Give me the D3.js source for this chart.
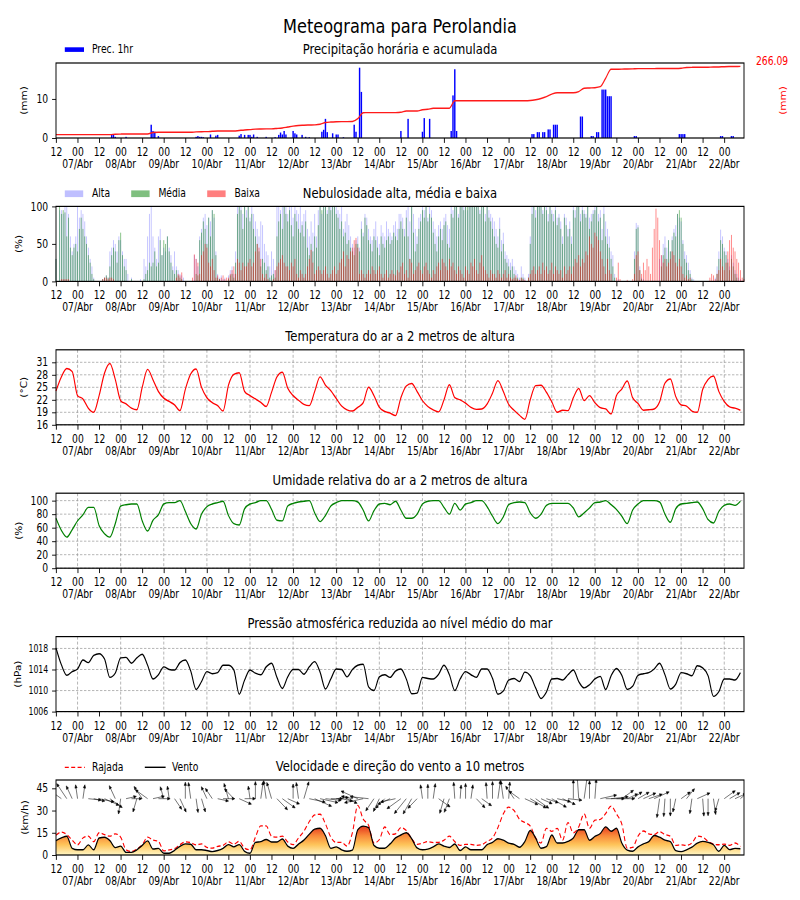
<!DOCTYPE html>
<html>
<head>
<meta charset="utf-8">
<script src="https://cdn.jsdelivr.net/npm/d3@7/dist/d3.min.js"></script>
<style>
  html, body { margin: 0; padding: 0; background: #fff; }
  svg { display: block; font-family: 'DejaVu Sans', sans-serif; }
</style>
</head>
<body>
<svg id="chart" width="800" height="900" viewBox="0 0 1000 900" preserveAspectRatio="none"></svg>
<script>
// ---- data: hour 0 = 06/Abr 12:00 UTC ----

// hourly precipitation (only hours with rain)
var precHour = [31,32,33,39, 53,54,55,57, 78,79,80,81,82, 86,89,90,
  102,103,105,107,108,109,110,112, 117, 122,124,125,126,127,128,
  132,133,134,137,139,141, 148,149,150,151, 154,156,157,160,
  166,167,169,170, 192,196, 204,205,208, 220,221,222,223,
  265,266,268,269,271,272,274,275,277,278,279, 292,293,
  298,299,301,302, 304,305,306,307,308,309, 322,323,
  347,348,349,350, 370,371,376,377];
var precMm = [0.9,0.8,0.3,0.3, 3.4,1.8,1.6,0.5, 0.3,0.5,0.3,0.3,0.2, 0.9,0.6,0.8,
  0.6,1.0,0.8,0.8,0.8,0.3,0.9,0.3, 0.3, 0.2,0.8,1.4,0.9,1.8,0.9,
  1.8,1.2,0.9,0.8,0.3,0.2, 1.6,2.1,4.9,1.5, 1.2,0.9,0.9,0.2,
  3.4,1.6,18.0,11.8, 1.8,4.9, 1.6,5.1,4.9, 1.8,10.9,17.6,1.8,
  1.0,1.0,1.5,1.5,1.5,1.5,2.2,2.2,3.4,3.4,3.4, 5.5,5.5,
  0.5,0.5,1.5,1.5, 12.4,12.4,12.4,10.7,10.7,10.7, 0.5,0.5,
  1.0,1.0,1.0,1.0, 0.5,0.5,0.5,0.5];

// 3-hourly accumulated precipitation (mm)
var precAcum = [
  0, 0, 0, 0,
  0, 0, 0, 0, 0, 0, 0, 1.5,
  2.0, 2.2, 2.2, 2.2, 2.2, 2.5, 8.0, 8.9,
  8.9, 8.9, 8.9, 8.9, 8.9, 8.9, 10.5, 11.3,
  11.5, 13.0, 14.0, 14.0, 14.0, 14.0, 16.0, 18.0,
  19.5, 21.5, 22.0, 22.3, 22.5, 24.0, 26.0, 29.5,
  33.0, 35.5, 36.5, 37.4, 38.0, 40.2, 47.0, 49.0,
  50.0, 50.5, 50.5, 51.0, 62.0, 85.4, 85.6, 85.6,
  85.6, 85.6, 85.6, 85.6, 87.0, 92.0, 92.0, 92.0,
  97.0, 98.7, 102.6, 102.6, 102.6, 103.0, 132.0, 132.3,
  132.3, 132.3, 132.3, 132.3, 132.3, 132.3, 132.3, 132.3,
  132.3, 132.3, 132.3, 132.3, 133.0, 136.0, 141.0, 148.0,
  158.0, 163.5, 163.5, 163.5, 163.5, 168.0, 181.0, 182.0,
  183.0, 187.0, 220.0, 254.8, 255.0, 255.5, 256.0, 256.5,
  257.5, 257.5, 257.5, 257.6, 257.7, 257.8, 257.9, 258.0,
  259.0, 262.0, 262.5, 262.6, 262.7, 263.0, 263.5, 264.0,
  265.0, 265.5, 265.8, 266.09];

// hourly cloud cover (%), one row = 24 h starting at 12 UTC
var nuvAlta = [
  30,0,95,95,90,100,100,90,60,40,50,60,100,85,95,90,80,60,45,30,20,5,0,0,
  0,0,3,5,8,5,40,45,55,50,40,60,55,40,30,30,10,0,5,0,0,0,0,3,
  0,30,20,60,90,100,60,45,30,60,70,35,45,40,60,45,35,20,40,20,15,10,8,5,
  0,0,0,0,0,35,30,20,60,70,85,90,75,85,80,95,85,40,10,5,8,3,5,0,
  8,15,20,10,40,100,100,100,90,100,95,100,85,100,90,80,70,60,80,75,50,40,35,20,
  40,30,15,100,100,95,100,100,100,90,100,100,85,100,95,90,100,80,90,95,70,60,80,65,
  90,60,95,100,90,100,100,95,100,100,100,100,100,95,90,100,70,80,90,75,60,50,45,55,
  60,45,80,65,90,85,70,60,55,70,80,60,50,75,65,60,80,70,65,60,75,80,70,90,
  90,85,70,95,100,80,100,90,70,60,85,90,100,95,100,85,100,95,80,70,60,75,80,70,
  85,90,75,70,100,95,100,100,90,100,100,100,100,95,100,100,100,100,100,100,95,100,100,90,
  100,95,90,85,80,70,60,85,55,65,40,35,30,25,30,20,15,10,5,20,10,5,0,10,
  60,100,100,95,100,100,100,95,100,100,90,100,95,90,100,85,90,80,60,90,85,70,80,60,
  100,95,100,100,90,100,95,90,100,85,90,95,100,100,90,95,70,100,80,70,60,40,35,10,
  0,3,0,0,0,0,0,0,0,0,40,78,75,20,5,3,0,0,0,0,0,0,0,0,
  30,35,50,60,45,55,40,60,70,75,90,85,80,55,40,35,25,15,5,3,0,0,0,0,
  0,0,0,0,0,0,0,5,20,40,69,60,45,40,30,20,35,25,15,10,5,3,0,0];
var nuvMedia = [
  30,0,100,90,95,92,60,85,45,35,45,50,40,70,85,70,60,50,35,25,10,3,0,0,
  0,0,3,5,8,5,20,35,45,40,25,55,65,35,20,15,0,0,3,0,0,0,0,0,
  0,3,10,15,25,20,25,40,20,25,55,35,55,50,60,40,25,15,10,15,8,5,3,0,
  0,0,0,0,0,0,10,8,55,65,80,70,50,85,60,95,90,35,5,3,0,0,0,0,
  3,8,10,5,25,90,100,95,70,100,85,100,80,90,70,60,50,40,20,30,25,15,20,5,
  8,10,5,60,80,90,70,100,90,80,95,75,60,90,80,70,65,75,60,80,45,35,50,40,
  60,45,75,100,95,100,100,90,100,95,100,100,90,85,70,80,60,65,50,55,45,40,35,50,
  50,40,70,60,85,75,55,50,40,60,55,45,35,60,50,45,55,60,50,55,65,60,55,70,
  80,70,60,85,60,30,100,65,40,50,70,80,95,85,100,80,90,85,65,50,40,60,70,55,
  75,80,50,45,90,85,100,100,85,100,100,95,100,100,100,100,100,100,100,100,90,100,100,80,
  100,85,80,70,60,50,45,70,40,50,30,25,20,15,20,10,5,5,0,5,5,0,0,5,
  50,90,100,85,100,100,100,90,100,95,80,100,90,80,95,75,85,70,50,85,75,60,70,50,
  95,85,100,100,80,95,90,85,100,70,80,90,95,100,80,85,55,90,60,50,45,30,20,5,
  0,0,0,0,0,0,0,0,0,0,30,70,72,15,3,0,0,0,0,0,0,0,0,0,
  0,20,35,45,30,55,40,55,65,60,90,95,85,50,30,25,15,10,3,0,0,0,0,0,
  0,0,0,0,0,0,0,0,10,30,55,50,40,35,25,15,30,20,10,5,0,0,0,0];
var nuvBaixa = [
  0,0,0,3,3,3,3,3,0,0,0,0,0,0,0,0,0,0,0,0,0,0,0,0,
  0,0,3,5,5,3,5,5,3,0,0,0,0,0,0,0,0,0,0,0,0,0,0,0,
  0,0,0,0,0,0,0,0,0,0,0,0,0,0,0,0,0,0,0,5,10,8,12,0,
  0,0,0,0,5,36,30,25,10,35,40,50,45,25,20,30,15,5,8,3,5,8,3,5,
  5,10,15,20,10,30,25,15,25,20,20,25,30,20,25,40,50,45,30,10,5,10,3,0,
  0,3,15,20,25,30,35,25,20,20,15,25,20,30,10,5,15,10,5,10,20,30,42,25,
  10,15,20,15,10,15,20,10,5,10,15,20,10,15,25,30,40,20,35,30,40,45,55,58,
  45,10,15,10,5,10,15,10,20,15,10,15,20,10,5,10,15,5,10,15,10,8,15,12,
  20,25,10,15,5,30,25,10,15,20,25,15,10,20,25,15,10,5,15,10,20,25,15,30,
  25,20,15,30,20,25,15,10,20,15,10,5,20,15,10,25,20,30,15,10,25,35,20,15,
  10,5,15,10,10,5,15,10,5,10,15,5,10,5,3,5,8,3,2,5,3,2,0,5,
  10,15,20,10,15,20,10,25,15,20,10,15,25,10,20,15,10,15,5,20,10,15,20,10,
  20,30,25,35,20,30,25,40,35,60,50,45,65,60,55,40,30,20,10,30,15,10,0,0,
  5,25,3,0,0,0,2,0,0,3,10,35,40,15,10,25,15,30,20,10,45,70,97,85,
  55,35,25,30,20,25,30,40,35,25,20,30,20,10,5,8,3,5,0,0,0,0,0,0,
  0,0,0,0,5,10,8,3,10,15,30,20,15,25,40,55,62,45,40,30,25,15,5,3];

// 3-hourly series, one row per day (00..21 UTC)
var temperatura = [
  24.1, 27.5, 29.5, 28.8,
  23.0, 22.2, 20.0, 19.0, 23.0, 28.4, 30.7, 26.9,
  21.8, 21.0, 20.0, 19.6, 25.0, 29.3, 26.8, 24.0,
  22.4, 21.6, 20.8, 19.4, 24.5, 28.2, 29.4, 25.0,
  22.5, 21.3, 20.6, 19.3, 25.5, 28.1, 28.5, 24.0,
  23.0, 22.2, 21.4, 20.4, 23.8, 27.5, 28.6, 24.8,
  23.0, 21.9, 20.9, 20.6, 24.0, 27.5, 25.5, 24.2,
  22.3, 20.5, 19.6, 19.3, 20.2, 21.3, 25.0, 23.0,
  20.2, 19.2, 18.8, 18.2, 22.5, 25.3, 25.9, 24.0,
  21.8, 20.4, 19.6, 19.1, 22.0, 25.6, 22.5, 22.0,
  21.2, 20.2, 19.7, 19.8, 21.0, 23.6, 26.6, 24.0,
  20.9, 19.5, 18.3, 17.3, 22.0, 25.4, 25.5, 23.8,
  21.5, 19.0, 19.5, 19.4, 22.5, 24.7, 21.8, 23.0,
  21.3, 20.1, 19.8, 18.6, 23.0, 24.6, 26.5, 22.5,
  21.1, 19.5, 19.6, 19.8, 21.5, 26.0, 27.0, 22.8,
  20.8, 20.5, 19.3, 19.0, 24.5, 26.9, 27.7, 24.0,
  21.6, 20.3, 20.0, 19.5];

var umidade = [
  74, 56, 46, 57,
  70, 79, 90, 90, 63, 51, 46, 66,
  92, 94, 95, 95, 70, 55, 71, 79,
  95, 97, 97, 100, 84, 66, 58, 80,
  91, 95, 97, 99, 78, 66, 64, 88,
  95, 97, 100, 100, 87, 71, 70, 92,
  96, 98, 99, 100, 82, 69, 78, 92,
  97, 100, 100, 100, 98, 86, 70, 85,
  95, 96, 94, 99, 86, 74, 74, 80,
  95, 99, 100, 100, 90, 80, 96, 86,
  95, 97, 100, 100, 91, 77, 66, 76,
  94, 97, 98, 97, 82, 74, 80, 93,
  96, 96, 96, 96, 89, 76, 82, 89,
  97, 98, 100, 94, 87, 77, 66, 86,
  95, 100, 100, 100, 98, 80, 68, 88,
  95, 96, 97, 98, 88, 72, 67, 84,
  93, 95, 93, 99];

var pressao = [
  1018.1, 1014.9, 1012.9, 1013.6,
  1014.1, 1015.8, 1015.3, 1016.7, 1017.0, 1016.0, 1012.5, 1013.3,
  1016.2, 1016.3, 1015.2, 1016.2, 1016.9, 1014.8, 1012.2, 1013.0,
  1014.5, 1014.0, 1013.9, 1015.3, 1015.8, 1013.7, 1010.2, 1011.7,
  1013.6, 1013.2, 1013.4, 1014.8, 1014.8, 1013.9, 1009.3, 1012.0,
  1013.9, 1013.3, 1013.0, 1014.5, 1015.2, 1012.5, 1010.4, 1012.6,
  1014.0, 1014.0, 1013.1, 1014.5, 1015.5, 1013.5, 1010.3, 1012.2,
  1014.1, 1014.0, 1012.6, 1014.0, 1014.8, 1015.0, 1010.7, 1010.0,
  1012.6, 1013.0, 1012.5, 1013.7, 1014.1, 1012.2, 1009.4, 1009.5,
  1012.5, 1012.3, 1012.2, 1013.1, 1014.8, 1013.0, 1010.0, 1012.2,
  1013.6, 1013.0, 1012.5, 1014.1, 1014.1, 1012.3, 1009.3, 1009.9,
  1012.0, 1012.3, 1011.7, 1013.5, 1012.8, 1010.5, 1008.5, 1009.7,
  1012.2, 1012.3, 1012.0, 1013.0, 1013.9, 1011.7, 1010.5, 1011.1,
  1012.2, 1012.7, 1010.2, 1012.8, 1014.2, 1012.9, 1010.2, 1010.8,
  1012.9, 1013.2, 1013.4, 1014.1, 1015.2, 1013.0, 1010.3, 1011.2,
  1013.4, 1013.2, 1012.8, 1014.7, 1014.3, 1012.8, 1008.9, 1009.8,
  1012.2, 1012.2, 1012.0, 1013.4];

var vento = [
  9.7, 11.5, 12.7, 4.5,
  3.5, 3.5, 6.8, 3.5, 11.5, 12.0, 9.7, 5.0,
  6.0, 1.8, 1.8, 3.5, 6.5, 9.5, 4.0, 4.5,
  1.2, 1.2, 3.2, 5.8, 7.5, 7.3, 3.5, 3.5,
  3.0, 2.3, 3.0, 4.5, 7.0, 5.5, 7.0, 2.5,
  1.2, 8.5, 9.0, 10.5, 8.8, 8.8, 10.8, 6.0,
  4.5, 7.4, 10.0, 14.0, 17.5, 18.0, 13.0, 4.5,
  5.5, 3.5, 2.5, 3.3, 17.0, 19.5, 18.5, 6.5,
  4.6, 4.6, 7.5, 11.5, 13.5, 15.0, 11.0, 4.8,
  3.5, 4.0, 5.5, 7.5, 6.0, 5.1, 7.4, 3.0,
  5.5, 3.5, 3.5, 3.5, 7.0, 8.5, 11.0, 10.0,
  8.0, 7.2, 5.2, 9.0, 16.5, 11.5, 4.6, 5.6,
  13.5, 8.1, 8.1, 9.2, 11.5, 17.0, 17.0, 10.0,
  12.5, 14.5, 19.0, 16.0, 18.0, 8.0, 3.3, 2.5,
  5.5, 7.5, 9.0, 13.2, 12.0, 10.0, 9.0, 3.0,
  2.3, 3.5, 5.3, 8.0, 9.2, 8.5, 6.9, 2.5,
  6.5, 3.6, 4.5, 4.2];

var rajada = [
  13.4, 15.5, 13.8, 10.0,
  6.9, 11.5, 12.7, 9.0, 15.0, 13.8, 12.7, 14.3,
  12.0, 3.5, 2.3, 4.0, 6.9, 12.0, 10.0, 9.2,
  2.8, 3.5, 4.3, 7.0, 8.8, 8.3, 6.8, 7.5,
  5.1, 4.6, 5.8, 6.5, 8.8, 7.4, 9.2, 4.6,
  3.5, 12.0, 19.6, 19.6, 12.7, 12.0, 12.7, 8.8,
  7.0, 11.5, 16.0, 22.5, 27.0, 27.5, 21.0, 12.0,
  8.5, 8.5, 6.0, 15.0, 33.5, 24.2, 20.0, 8.1,
  10.4, 18.9, 13.8, 14.3, 18.5, 16.5, 11.0, 7.2,
  8.0, 9.0, 8.4, 8.5, 10.0, 12.7, 9.0, 6.5,
  7.2, 7.2, 6.5, 7.0, 9.2, 11.5, 18.5, 27.7,
  32.3, 30.0, 24.2, 21.9, 19.6, 11.5, 8.1, 18.0,
  16.0, 18.0, 10.0, 21.9, 15.0, 19.0, 27.7, 18.0,
  23.5, 24.0, 28.0, 33.0, 27.7, 20.8, 4.6, 5.1,
  12.7, 16.2, 14.3, 13.8, 15.7, 13.8, 12.7, 6.5,
  6.9, 6.5, 8.1, 12.7, 12.0, 9.2, 7.4, 6.9,
  7.4, 6.5, 8.1, 5.8];

// heading of the wind arrows (degrees, clockwise from up)
var ventoDir = [
  290, 300, 320, 330,
  350, 10, 95, 100, 100, 110, 120, 330,
  190, 80, 90, 200, 320, 300, 80, 90,
  340, 350, 140, 150, 0, 350, 170, 160,
  330, 320, 100, 90, 340, 310, 110, 90,
  350, 0, 10, 350, 340, 130, 120, 110,
  0, 350, 20, 100, 110, 100, 95, 90,
  85, 100, 110, 280, 290, 260, 275, 220,
  210, 230, 250, 260, 240, 225, 215, 230,
  350, 0, 10, 120, 200, 205, 355, 5,
  0, 10, 130, 120, 355, 0, 10, 350,
  5, 320, 300, 110, 115, 120, 110, 105,
  115, 100, 110, 95, 0, 355, 10, 0,
  5, 80, 90, 85, 90, 60, 70, 60,
  65, 70, 75, 70, 190, 185, 180, 195,
  60, 45, 190, 70, 175, 180, 170, 200,
  60, 65, 70, 55];

var yTicksPrec = [0, 10],
    yTicksNuv = [0, 50, 100],
    yTicksTemp = [16, 19, 22, 25, 28, 31],
    yTicksUmid = [0, 20, 40, 60, 80, 100],
    yTicksPres = [1006, 1010, 1014, 1018],
    yTicksVento = [0, 15, 30, 45];

// ---- layout (drawn in a 1000 px wide space, squeezed to 800) ----
var t0 = Date.UTC(2024, 3, 6, 12),
    HOUR = 36e5,
    lastHour = 383;

var svg = d3.select('#chart');
var defs = svg.append('defs');
var left = 70, right = 930, PH = 75;
var FONT = 'DejaVu Sans';

var x = d3.scaleUtc()
  .domain([new Date(t0), new Date(t0 + lastHour * HOUR)])
  .range([left, right]);

function hx(h) { return x(new Date(t0 + h * HOUR)); }

var hours1 = d3.range(0, 384),
    hours3 = d3.range(0, 384, 3);

var xTicks = d3.utcHour.every(12).range(new Date(t0), new Date(t0 + lastHour * HOUR + 1));
var dayTicks = xTicks.filter(function(t){ return t.getUTCHours() === 0; });

function seriesLine(p, values) {
  return d3.line()
    .curve(d3.curveMonotoneX)
    .x(function(h){ return hx(h); })
    .y(function(h, i){ return p.y(values[i]); });
}

function panel(top, yDomain, yTicks, grid) {
  var p = {top: top, bottom: top + PH, yTicks: yTicks};
  p.y = d3.scaleLinear().domain(yDomain).range([p.bottom, p.top]);
  p.g = svg.append('g');
  if (grid) {
    var gg = p.g.append('g')
      .attr('stroke', '#999').attr('stroke-width', 0.8).attr('stroke-dasharray', '3,2');
    gg.selectAll('line.gh').data(yTicks).enter().append('line')
      .attr('class', 'gh')
      .attr('x1', left).attr('x2', right)
      .attr('y1', p.y).attr('y2', p.y);
    gg.selectAll('line.gv').data(dayTicks).enter().append('line')
      .attr('class', 'gv')
      .attr('x1', x).attr('x2', x)
      .attr('y1', p.top).attr('y2', p.bottom);
  }
  return p;
}

function finish(p, title, yLabel, yLabelX, yFont) {
  var xa = p.g.append('g')
    .attr('transform', 'translate(0,' + p.bottom + ')')
    .call(d3.axisBottom(x).tickValues(xTicks).tickFormat(d3.utcFormat('%H'))
      .tickSize(4.9).tickPadding(4.9));
  xa.attr('font-family', FONT).attr('font-size', 11.5);
  xa.select('.domain').remove();
  xa.selectAll('.tick line').attr('stroke-width', 1);
  xa.selectAll('text.dia').data(dayTicks).enter().append('text')
    .attr('class', 'dia')
    .attr('x', x).attr('y', 30)
    .attr('text-anchor', 'middle').attr('fill', '#000')
    .text(function(d){ return d3.utcFormat('%d')(d) + '/Abr'; });

  var ya = p.g.append('g')
    .attr('transform', 'translate(' + left + ',0)')
    .call(d3.axisLeft(p.y).tickValues(p.yTicks).tickFormat(d3.format('d'))
      .tickSize(4.9).tickPadding(4.9));
  ya.attr('font-family', FONT).attr('font-size', yFont || 11.5);
  ya.select('.domain').remove();
  ya.selectAll('.tick line').attr('stroke-width', 1);

  p.g.append('rect')
    .attr('x', left).attr('y', p.top)
    .attr('width', right - left).attr('height', PH)
    .attr('fill', 'none').attr('stroke', '#000').attr('stroke-width', 1.2);

  p.g.append('text')
    .attr('transform', 'translate(' + yLabelX + ',' + (p.top + PH / 2) + ') rotate(-90)')
    .attr('text-anchor', 'middle').attr('dy', '0.35em')
    .attr('font-size', 10.5).text(yLabel);

  p.g.append('text')
    .attr('x', (left + right) / 2).attr('y', p.top - 8.5)
    .attr('text-anchor', 'middle').attr('font-size', 14.5)
    .text(title);
}

function legendText(g, xx, yy, txt) {
  g.append('text').attr('x', xx).attr('y', yy).attr('font-size', 11.5).text(txt);
}

svg.append('text')
  .attr('x', 500).attr('y', 33)
  .attr('text-anchor', 'middle').attr('font-size', 20.2)
  .text('Meteograma para Perolandia');

var tops = [63, 206.4, 349.8, 493.2, 636.6, 780];

// ---- 1: precipitation ----
var p1 = panel(tops[0], [0, 19.2], yTicksPrec, false);
var barW = hx(0.8) - hx(0);
p1.g.append('g').selectAll('rect').data(precHour).enter().append('rect')
  .attr('x', function(d){ return hx(d) - barW / 2; })
  .attr('width', barW)
  .attr('y', function(d, i){ return p1.y(precMm[i]); })
  .attr('height', function(d, i){ return p1.y(0) - p1.y(precMm[i]); })
  .attr('fill', '#0000ff');

var acumMax = d3.max(precAcum);
var yAcum = d3.scaleLinear().domain([-0.05 * acumMax, 1.05 * acumMax]).range([p1.bottom, p1.top]);
p1.g.append('path')
  .datum(hours3)
  .attr('fill', 'none').attr('stroke', '#ff1a1a').attr('stroke-width', 1.4)
  .attr('d', seriesLine({y: yAcum}, precAcum));

p1.g.append('text')
  .attr('x', 945).attr('y', 65.5)
  .attr('font-size', 11.5).attr('fill', '#ff0000')
  .text(d3.format('.2f')(acumMax));
p1.g.append('text')
  .attr('transform', 'translate(979,' + (p1.top + PH / 2) + ') rotate(-90)')
  .attr('text-anchor', 'middle').attr('dy', '0.35em')
  .attr('font-size', 10.5).attr('fill', '#ff0000')
  .text('(mm)');

p1.g.append('rect').attr('x', 81).attr('y', 47.3).attr('width', 24).attr('height', 4.6).attr('fill', '#0000ff');
legendText(p1.g, 115, 53.5, 'Prec. 1hr');
finish(p1, 'Precipitação horária e acumulada', '(mm)', 30);

// ---- 2: clouds ----
var p2 = panel(tops[1], [0, 100], yTicksNuv, false);
var nuvSeries = [
  {v: nuvAlta, c: 'rgba(0,0,255,0.25)', n: 'Alta', lx: 81},
  {v: nuvMedia, c: 'rgba(0,128,0,0.5)', n: 'Média', lx: 164},
  {v: nuvBaixa, c: 'rgba(255,0,0,0.5)', n: 'Baixa', lx: 259}
];
var nuvW = hx(0.5) - hx(0);
nuvSeries.forEach(function(s){
  p2.g.append('g').selectAll('rect').data(hours1).enter().append('rect')
    .attr('x', function(h){ return hx(h) - nuvW / 2; })
    .attr('width', nuvW)
    .attr('y', function(h){ return p2.y(s.v[h]); })
    .attr('height', function(h){ return p2.y(0) - p2.y(s.v[h]); })
    .attr('fill', s.c);
  p2.g.append('rect').attr('x', s.lx).attr('y', p2.top - 16).attr('width', 23).attr('height', 6.7).attr('fill', s.c);
  legendText(p2.g, s.lx + 34, p2.top - 9, s.n);
});
finish(p2, 'Nebulosidade alta, média e baixa', '(%)', 24);

// ---- 3: temperature ----
var p3 = panel(tops[2], [16, 34], yTicksTemp, true);
p3.g.append('path').datum(hours3)
  .attr('fill', 'none').attr('stroke', '#ff0000').attr('stroke-width', 1.4)
  .attr('d', seriesLine(p3, temperatura));
finish(p3, 'Temperatura do ar a 2 metros de altura', '(°C)', 30);

// ---- 4: humidity ----
var p4 = panel(tops[3], [0, 111], yTicksUmid, true);
p4.g.append('path').datum(hours3)
  .attr('fill', 'none').attr('stroke', '#008000').attr('stroke-width', 1.4)
  .attr('d', seriesLine(p4, umidade));
finish(p4, 'Umidade relativa do ar a 2 metros de altura', '(%)', 24);

// ---- 5: pressure ----
var p5 = panel(tops[4], [1006, 1020.25], yTicksPres, true);
p5.g.append('path').datum(hours3)
  .attr('fill', 'none').attr('stroke', '#000').attr('stroke-width', 1.4)
  .attr('d', seriesLine(p5, pressao));
finish(p5, 'Pressão atmosférica reduzida ao nível médio do mar', '(hPa)', 22, 9.7);

// ---- 6: wind ----
var p6 = panel(tops[5], [0, 50.6], yTicksVento, false);
var grad = defs.append('linearGradient')
  .attr('id', 'gradVento').attr('gradientUnits', 'userSpaceOnUse')
  .attr('x1', 0).attr('x2', 0).attr('y1', p6.y(0)).attr('y2', p6.y(20));
grad.append('stop').attr('offset', '0%').attr('stop-color', '#fff6c4');
grad.append('stop').attr('offset', '35%').attr('stop-color', '#fec45a');
grad.append('stop').attr('offset', '65%').attr('stop-color', '#f98a3a');
grad.append('stop').attr('offset', '100%').attr('stop-color', '#e3301c');

defs.append('clipPath').attr('id', 'clipVento')
  .append('rect').attr('x', left).attr('y', p6.top).attr('width', right - left).attr('height', PH);

p6.g.append('path').datum(hours3)
  .attr('fill', 'url(#gradVento)')
  .attr('d', d3.area().curve(d3.curveMonotoneX)
    .x(function(h){ return hx(h); }).y0(p6.y(0)).y1(function(h, i){ return p6.y(vento[i]); }));
p6.g.append('path').datum(hours3)
  .attr('fill', 'none').attr('stroke', '#ff0000').attr('stroke-width', 1.3).attr('stroke-dasharray', '5,3')
  .attr('d', seriesLine(p6, rajada));
p6.g.append('path').datum(hours3)
  .attr('fill', 'none').attr('stroke', '#000').attr('stroke-width', 1.4)
  .attr('d', seriesLine(p6, vento));

// direction arrows (tail anchored on a fixed row)
var arrowY = p6.y(38);
p6.g.append('g').attr('clip-path', 'url(#clipVento)')
  .selectAll('path').data(hours3).enter().append('path')
  .attr('fill', '#000').attr('stroke', '#000').attr('stroke-width', 0.6)
  .attr('d', function(h, i){
    var a = ventoDir[i] * Math.PI / 180,
        L = 12 + vento[i] * 0.6,
        sx = Math.sin(a), sy = -Math.cos(a),
        x0 = hx(h), y0 = arrowY,
        x1 = x0 + sx * L, y1 = y0 + sy * L,
        bx = x1 - sx * 3.2, by = y1 - sy * 3.2,
        px = -sy * 1.4, py = sx * 1.4;
    return 'M' + x0 + ',' + y0 + 'L' + bx + ',' + by +
      'M' + (bx + px) + ',' + (by + py) + 'L' + x1 + ',' + y1 + 'L' + (bx - px) + ',' + (by - py) + 'Z';
  });

p6.g.append('line').attr('x1', 81).attr('x2', 106).attr('y1', p6.top - 12.7).attr('y2', p6.top - 12.7)
  .attr('stroke', '#ff0000').attr('stroke-width', 1.3).attr('stroke-dasharray', '5,3');
legendText(p6.g, 115, p6.top - 9, 'Rajada');
p6.g.append('line').attr('x1', 181).attr('x2', 207).attr('y1', p6.top - 12.7).attr('y2', p6.top - 12.7)
  .attr('stroke', '#000').attr('stroke-width', 1.4);
legendText(p6.g, 215, p6.top - 9, 'Vento');
finish(p6, 'Velocidade e direção do vento a 10 metros', '(km/h)', 31);
</script>
</body>
</html>
